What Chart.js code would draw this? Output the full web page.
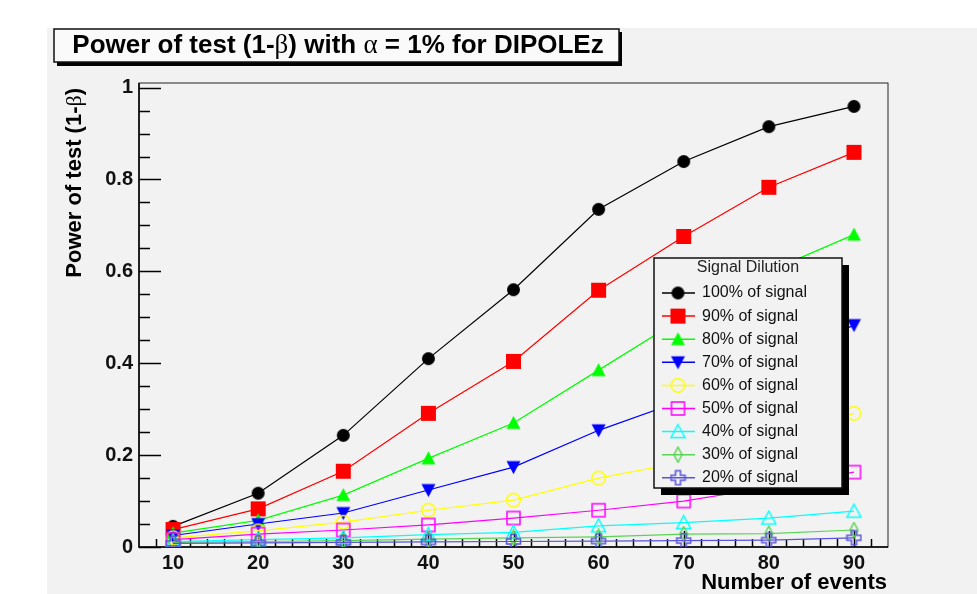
<!DOCTYPE html>
<html lang="en">
<head>
<meta charset="UTF-8">
<title>Power of test - DIPOLEz</title>
<script src="https://cdn.jsdelivr.net/npm/chart.js"></script>
<style>
    body { margin: 0; padding: 0; background: #ffffff; }
    #wrap { position: relative; width: 977px; height: 594px; }
</style>
</head>
<body>
<div id="wrap">
    <canvas id="powerChart" width="977" height="594"></canvas>
</div>
<script>
    // data
    const events = [10, 20, 30, 40, 50, 60, 70, 80, 90];
    const seriesNames = ['100% of signal', '90% of signal', '80% of signal', '70% of signal', '60% of signal',
                         '50% of signal', '40% of signal', '30% of signal', '20% of signal'];
    const sig100 = [0.045, 0.117, 0.243, 0.410, 0.560, 0.735, 0.839, 0.915, 0.959];
    const sig90  = [0.038, 0.083, 0.165, 0.291, 0.404, 0.559, 0.676, 0.783, 0.859];
    const sig80  = [0.030, 0.058, 0.113, 0.193, 0.270, 0.385, 0.500, 0.600, 0.680];
    const sig70  = [0.025, 0.050, 0.074, 0.124, 0.174, 0.254, 0.320, 0.400, 0.483];
    const sig60  = [0.020, 0.035, 0.054, 0.080, 0.102, 0.150, 0.185, 0.240, 0.291];
    const sig50  = [0.016, 0.028, 0.037, 0.048, 0.063, 0.080, 0.100, 0.130, 0.163];
    const sig40  = [0.012, 0.016, 0.020, 0.027, 0.032, 0.046, 0.053, 0.063, 0.078];
    const sig30  = [0.010, 0.012, 0.014, 0.017, 0.020, 0.022, 0.028, 0.029, 0.037];
    const sig20  = [0.008, 0.009, 0.010, 0.011, 0.012, 0.013, 0.014, 0.015, 0.020];
    const xTickVals = [10, 20, 30, 40, 50, 60, 70, 80, 90];
    const yTickVals = [0, 0.2, 0.4, 0.6, 0.8, 1];
    const yTickLabels = ['0', '0.2', '0.4', '0.6', '0.8', '1'];

    const allSeries = [sig100, sig90, sig80, sig70, sig60, sig50, sig40, sig30, sig20];
    const colors = ['#000000', '#ff0000', '#00ff00', '#0000ff', '#ffff00', '#ff00ff', '#00ffff', '#59d454', '#5954d8'];
    const markerKinds = ['circle', 'square', 'triUp', 'triDown', 'oCircle', 'oSquare', 'oTri', 'oDiamond', 'oCross'];

    const SANS = '"Liberation Sans", Arial, sans-serif';
    const SERIF = '"Liberation Serif", "DejaVu Serif", serif';

    // ROOT-like marker images
    function makeMarker(kind, color) {
        const c = document.createElement('canvas');
        c.width = 17; c.height = 17;
        const g = c.getContext('2d');
        const m = 8.5;
        g.fillStyle = color;
        g.strokeStyle = color;
        g.lineWidth = 1.5;
        g.beginPath();
        if (kind === 'circle') {
            g.arc(m, m, 6.5, 0, Math.PI * 2); g.fill();
        } else if (kind === 'square') {
            g.rect(1, 1, 15, 15); g.fill();
        } else if (kind === 'triUp') {
            g.moveTo(m, 1.5); g.lineTo(15.5, 14.5); g.lineTo(1.5, 14.5); g.closePath(); g.fill();
        } else if (kind === 'triDown') {
            g.moveTo(m, 15.5); g.lineTo(15.5, 2.5); g.lineTo(1.5, 2.5); g.closePath(); g.fill();
        } else if (kind === 'oCircle') {
            g.arc(m, m, 6.8, 0, Math.PI * 2); g.stroke();
        } else if (kind === 'oSquare') {
            g.rect(2, 2, 13, 13); g.stroke();
        } else if (kind === 'oTri') {
            g.moveTo(m, 1.5); g.lineTo(15.5, 14.5); g.lineTo(1.5, 14.5); g.closePath(); g.stroke();
        } else if (kind === 'oDiamond') {
            g.moveTo(m, 1); g.lineTo(m + 4, m); g.lineTo(m, 16); g.lineTo(m - 4, m); g.closePath(); g.stroke();
        } else if (kind === 'oCross') {
            const a = 2.5, e = 7;
            g.moveTo(m - a, m - e); g.lineTo(m + a, m - e); g.lineTo(m + a, m - a); g.lineTo(m + e, m - a);
            g.lineTo(m + e, m + a); g.lineTo(m + a, m + a); g.lineTo(m + a, m + e); g.lineTo(m - a, m + e);
            g.lineTo(m - a, m + a); g.lineTo(m - e, m + a); g.lineTo(m - e, m - a); g.lineTo(m - a, m - a);
            g.closePath(); g.stroke();
        }
        return c;
    }
    const markers = markerKinds.map((k, i) => makeMarker(k, colors[i]));

    // text made of pieces (sans bold + serif greek)
    function drawPieces(ctx, pieces, x, y, align) {
        let total = 0;
        pieces.forEach(p => { ctx.font = p[1]; total += ctx.measureText(p[0]).width; });
        let cx = align === 'center' ? x - total / 2 : (align === 'right' ? x - total : x);
        ctx.textAlign = 'left';
        ctx.textBaseline = 'middle';
        pieces.forEach(p => {
            ctx.font = p[1];
            ctx.fillText(p[0], cx, y);
            cx += ctx.measureText(p[0]).width;
        });
    }

    const decorPlugin = {
        id: 'decor',
        beforeDraw(chart) {
            const ctx = chart.ctx;
            ctx.save();
            ctx.fillStyle = '#f2f2f2';
            ctx.fillRect(47, 28, 930, 566);

            // title box
            ctx.fillStyle = '#000';
            ctx.fillRect(57, 32, 565, 34);
            ctx.fillStyle = '#fafafa';
            ctx.fillRect(54, 29, 565, 33);
            ctx.strokeStyle = '#111';
            ctx.lineWidth = 1.5;
            ctx.strokeRect(54, 29, 565, 33);
            ctx.fillStyle = '#000';
            const tb = 'bold 26px ' + SANS, tg = '27px ' + SERIF;
            drawPieces(ctx, [['Power of test (1-', tb], ['\u03B2', tg], [') with ', tb], ['\u03B1', tg], [' = 1% for DIPOLEz', tb]],
                338, 46, 'center');

            // axis titles
            const ab = 'bold 22px ' + SANS, ag = '22px ' + SERIF;
            drawPieces(ctx, [['Number of events', ab]], 887, 583, 'right');
            ctx.translate(75, 88);
            ctx.rotate(-Math.PI / 2);
            drawPieces(ctx, [['Power of test (1-', ab], ['\u03B2', ag], [')', ab]], 0, 0, 'right');
            ctx.restore();
        },
        beforeDatasetsDraw(chart) {
            const ctx = chart.ctx, a = chart.chartArea;
            const xs = chart.scales.x, ys = chart.scales.y;
            ctx.save();
            ctx.strokeStyle = '#222';
            ctx.lineWidth = 1;
            ctx.strokeRect(a.left, a.top, a.right - a.left, a.bottom - a.top);
            ctx.strokeStyle = '#000';
            ctx.lineWidth = 1.5;
            ctx.beginPath();
            ctx.moveTo(a.left, a.top); ctx.lineTo(a.left, a.bottom); ctx.lineTo(a.right, a.bottom);
            // x ticks: minor every 2, major every 10
            for (let v = 8; v <= 92; v += 2) {
                const px = Math.round(xs.getPixelForValue(v)) + 0.5;
                const len = v % 10 === 0 ? 16 : 8;
                ctx.moveTo(px, a.bottom); ctx.lineTo(px, a.bottom - len);
            }
            // y ticks: minor every 0.05, major every 0.2
            for (let k = 0; k <= 20; k++) {
                const py = Math.round(ys.getPixelForValue(k * 0.05)) + 0.5;
                const len = k % 4 === 0 ? 22 : 11;
                ctx.moveTo(a.left, py); ctx.lineTo(a.left + len, py);
            }
            ctx.stroke();
            ctx.restore();
        },
        afterDatasetsDraw(chart) {
            const ctx = chart.ctx;
            const L = 654, T = 258, W = 188, H = 230;
            ctx.save();
            ctx.fillStyle = '#000';
            ctx.fillRect(L + 7, T + 7, W, H);
            ctx.fillStyle = '#f2f2f2';
            ctx.fillRect(L, T, W, H);
            ctx.strokeStyle = '#111';
            ctx.lineWidth = 1.5;
            ctx.strokeRect(L, T, W, H);
            ctx.fillStyle = '#222';
            ctx.font = '16px ' + SANS;
            ctx.textAlign = 'center';
            ctx.textBaseline = 'middle';
            ctx.fillText('Signal Dilution', L + W / 2, T + 10);
            ctx.textAlign = 'left';
            seriesNames.forEach((name, i) => {
                const y = T + 35 + i * 23.1;
                ctx.strokeStyle = colors[i];
                ctx.lineWidth = 1.5;
                ctx.beginPath();
                ctx.moveTo(L + 8, y); ctx.lineTo(L + 41, y);
                ctx.stroke();
                ctx.drawImage(markers[i], L + 24 - 8.5, y - 8.5);
                ctx.fillStyle = '#111';
                ctx.fillText(name, L + 48, y);
            });
            ctx.restore();
        }
    };

    const datasets = allSeries.map((vals, i) => ({
        label: seriesNames[i],
        data: events.map((e, j) => ({ x: e, y: vals[j] })),
        borderColor: colors[i],
        backgroundColor: colors[i],
        borderWidth: 1.2,
        pointStyle: markers[i],
        pointRadius: 7,
        tension: 0,
        order: allSeries.length - i
    }));

    new Chart(document.getElementById('powerChart').getContext('2d'), {
        type: 'line',
        data: { datasets: datasets },
        options: {
            responsive: false,
            animation: false,
            events: [],
            layout: { padding: { top: 83, right: 89, left: 0, bottom: 0 } },
            plugins: { legend: { display: false }, tooltip: { enabled: false } },
            scales: {
                x: {
                    type: 'linear', min: 6, max: 94,
                    grid: { display: false, drawTicks: false },
                    border: { display: false },
                    afterBuildTicks: s => { s.ticks = xTickVals.map(v => ({ value: v })); },
                    afterFit: s => { s.height = 47; },
                    ticks: { padding: 4, color: '#111', font: { family: SANS, size: 20, weight: 'bold' }, maxRotation: 0,
                             callback: v => String(v) }
                },
                y: {
                    type: 'linear', min: 0, max: 1.01,
                    grid: { display: false, drawTicks: false },
                    border: { display: false },
                    afterBuildTicks: s => { s.ticks = yTickVals.map(v => ({ value: v })); },
                    afterFit: s => { s.width = 139; },
                    ticks: { padding: 6, color: '#111', font: { family: SANS, size: 20, weight: 'bold' },
                             callback: (v, idx) => yTickLabels[idx] }
                }
            }
        },
        plugins: [decorPlugin]
    });
</script>
</body>
</html>
